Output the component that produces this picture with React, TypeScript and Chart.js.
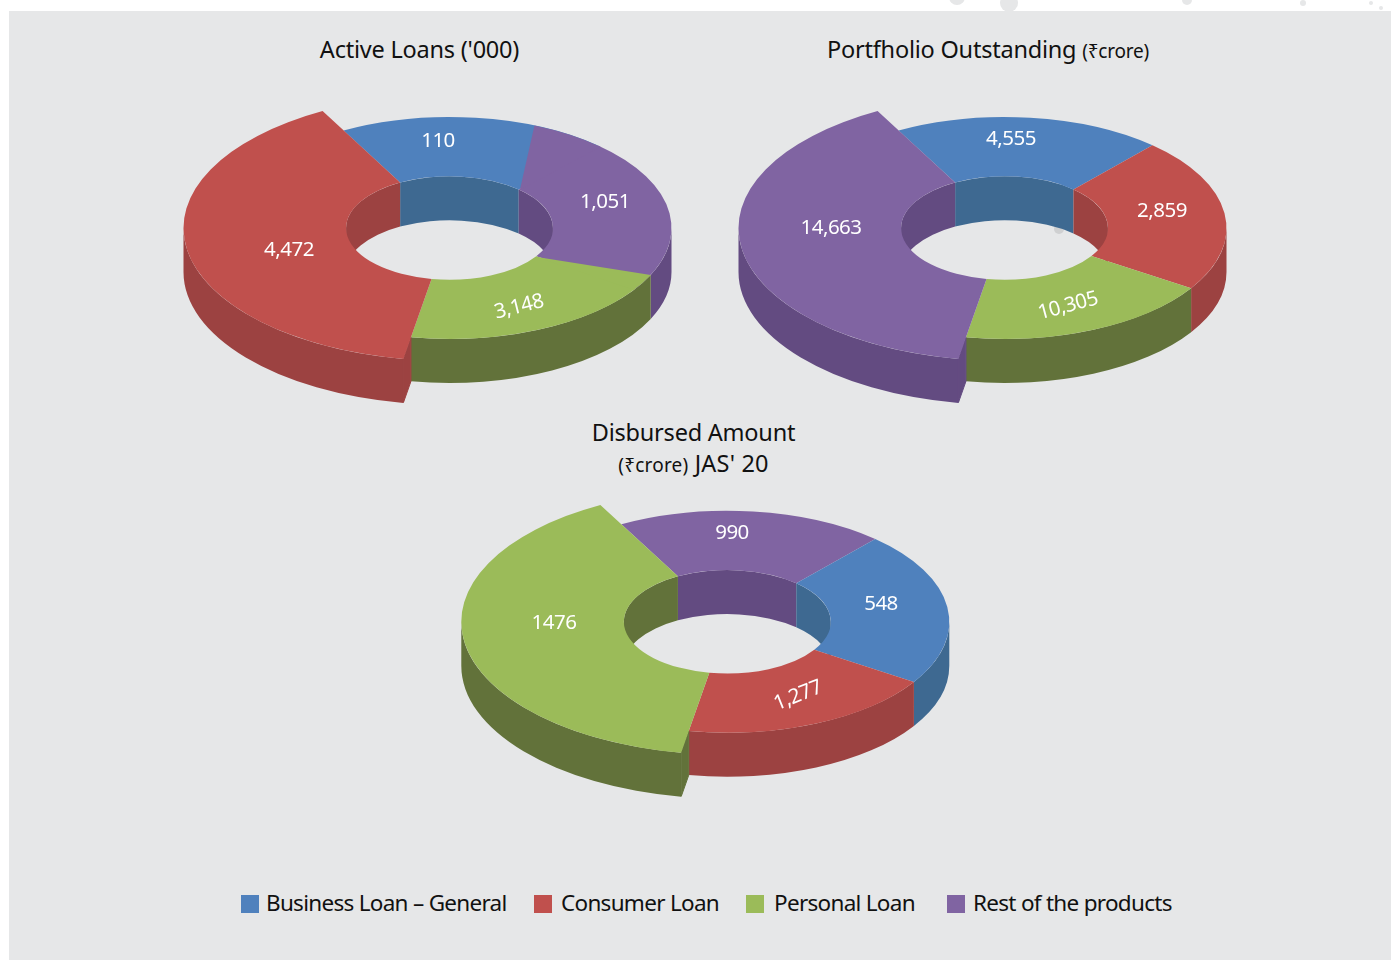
import React, { useEffect, useRef } from "react";
import Chart from "chart.js/auto";

// Drawn angular shares of each ring (the source art is not to scale),
// listed clockwise; printed numbers are kept separately.
const activeShares = [70.5, 81, 67, 141.5];
const activeLabels = ["110", "1,051", "3,148", "4,472"];
const activeColors = ["blue", "purple", "green", "red"];

const portfolioShares = [70.3, 81, 67.2, 141.5];
const portfolioLabels = ["4,555", "2,859", "10,305", "14,663"];
const portfolioColors = ["blue", "red", "green", "purple"];

const disbursedShares = [70.3, 81, 67.2, 141.5];
const disbursedLabels = ["990", "548", "1,277", "1476"];
const disbursedColors = ["purple", "blue", "red", "green"];

const legendItems = ["Business Loan – General", "Consumer Loan", "Personal Loan", "Rest of the products"];
const legendColors = ["blue", "red", "green", "purple"];

const FONT = '"Noto Sans"';
const TOP: Record<string, string> = { blue: "#4F81BD", red: "#C0504D", green: "#9BBB59", purple: "#8064A2" };
const WALL: Record<string, string> = { blue: "#3E6991", red: "#9C4241", green: "#62723A", purple: "#634B81" };
const SQUASH = 0.5;
const DEPTH = 44;
const RADIUS = 222;
const BIG_RADIUS = 266;
const CUT = "46.6%";
const ROTATION = -28.5;

type Cfg = {
  box: [number, number, number, number];
  centre: [number, number];
  shares: number[];
  labels: string[];
  colors: string[];
  labelAt: [number, number, number][];
  outerSkew?: Record<number, number>;
};

const charts: Cfg[] = [
  {
    box: [170, 100, 515, 312],
    centre: [449.5, 228],
    shares: activeShares,
    labels: activeLabels,
    colors: activeColors,
    labelAt: [[-11.5, -87, 0], [155.5, -26, 0], [69.5, 79, -14], [-160.5, 22, 0]],
    outerSkew: { 0: -19.5, 1: -8 },
  },
  {
    box: [725, 100, 515, 312],
    centre: [1004.5, 228],
    shares: portfolioShares,
    labels: portfolioLabels,
    colors: portfolioColors,
    labelAt: [[6.5, -89, 0], [157.5, -17, 0], [63.5, 78, -15], [-173.5, 0, 0]],
  },
  {
    box: [448, 495, 515, 312],
    centre: [727.3, 621.8],
    shares: disbursedShares,
    labels: disbursedLabels,
    colors: disbursedColors,
    labelAt: [[4.7, -89, 0], [153.7, -18, 0], [70.7, 74, -22], [-173.3, 1, 0]],
  },
];

const spans = (s: number, e: number, lo: number, hi: number) => {
  const out: [number, number][] = [];
  for (let n = -2; n <= 2; n++) {
    const a = Math.max(s, lo + n * 2 * Math.PI);
    const b = Math.min(e, hi + n * 2 * Math.PI);
    if (b > a) out.push([a, b]);
  }
  return out;
};

function wall(ctx: CanvasRenderingContext2D, x: number, y: number, r: number, a: number, b: number) {
  ctx.beginPath();
  ctx.ellipse(x, y, r, r * SQUASH, 0, a, b);
  ctx.ellipse(x, y + DEPTH, r, r * SQUASH, 0, b, a, true);
  ctx.closePath();
  ctx.fill();
}

function Donut({ cfg }: { cfg: Cfg }) {
  const ref = useRef<HTMLCanvasElement>(null);
  useEffect(() => {
    const [bx, by, bw, bh] = cfg.box;
    const lx = cfg.centre[0] - bx;
    const ly = cfg.centre[1] - by;
    const padX = 2 * lx - bw;
    const padY = 2 * ly - bh;
    const bigIndex = cfg.shares.length - 1;
    const skewRad = (i: number) => ((cfg.outerSkew?.[i] ?? 0) * Math.PI) / 180;

    const plugin = {
      id: "extrude",
      afterDatasetsUpdate(chart: any) {
        chart.getDatasetMeta(0).data[bigIndex].outerRadius = BIG_RADIUS;
      },
      beforeDatasetDraw(chart: any) {
        const ctx: CanvasRenderingContext2D = chart.ctx;
        const arcs = chart.getDatasetMeta(0).data;
        const x = arcs[0].x;
        const y = arcs[0].y;
        const inner = arcs[0].innerRadius;
        arcs.forEach((arc: any, i: number) => {
          ctx.fillStyle = WALL[cfg.colors[i]];
          spans(arc.startAngle, arc.endAngle, Math.PI, 2 * Math.PI).forEach(([a, b]) => wall(ctx, x, y, inner, a, b));
        });
        arcs.forEach((arc: any, i: number) => {
          ctx.fillStyle = WALL[cfg.colors[i]];
          const s = arc.startAngle + (i > 0 ? skewRad(i - 1) : 0);
          const e = arc.endAngle + skewRad(i);
          spans(s, e, 0, Math.PI).forEach(([a, b]) => wall(ctx, x, y, arc.outerRadius, a, b));
        });
        const big = arcs[bigIndex];
        const c = Math.cos(big.startAngle);
        const n = Math.sin(big.startAngle);
        const wallColor = WALL[cfg.colors[bigIndex]];
        ctx.fillStyle = wallColor;
        ctx.strokeStyle = wallColor;
        ctx.lineWidth = 1;
        ctx.beginPath();
        ctx.moveTo(x + RADIUS * c, y + RADIUS * n * SQUASH);
        ctx.lineTo(x + (BIG_RADIUS - 1) * c, y + (BIG_RADIUS - 1) * n * SQUASH);
        ctx.lineTo(x + (BIG_RADIUS - 1) * c, y + (BIG_RADIUS - 1) * n * SQUASH + DEPTH);
        ctx.lineTo(x + RADIUS * c, y + RADIUS * n * SQUASH + DEPTH);
        ctx.closePath();
        ctx.fill();
        ctx.stroke();
        ctx.save();
        ctx.translate(x, y);
        ctx.scale(1, SQUASH);
        ctx.translate(-x, -y);
      },
      afterDatasetDraw(chart: any) {
        const ctx: CanvasRenderingContext2D = chart.ctx;
        ctx.restore();
        const arcs = chart.getDatasetMeta(0).data;
        const x = arcs[0].x;
        const y = arcs[0].y;
        // slice edges in the art that are not radial: next slice takes a thin wedge of its neighbour
        arcs.forEach((arc: any, i: number) => {
          const d = skewRad(i);
          if (!d) return;
          const next = (i + 1) % arcs.length;
          const a = arc.endAngle;
          const past = a + 0.015;
          ctx.fillStyle = TOP[cfg.colors[next]];
          ctx.beginPath();
          ctx.moveTo(x + arc.innerRadius * Math.cos(past), y + arc.innerRadius * Math.sin(past) * SQUASH);
          ctx.ellipse(x, y, RADIUS, RADIUS * SQUASH, 0, a + d, past);
          ctx.closePath();
          ctx.fill();
        });
        ctx.fillStyle = "#ffffff";
        ctx.font = `20.5px ${FONT}`;
        (ctx as any).letterSpacing = "-0.5px";
        ctx.textAlign = "center";
        ctx.textBaseline = "middle";
        cfg.labels.forEach((t, i) => {
          const [dx, dy, rot] = cfg.labelAt[i];
          ctx.save();
          ctx.translate(x + dx, y + dy);
          ctx.rotate((rot * Math.PI) / 180);
          ctx.fillText(t, 0, 0);
          ctx.restore();
        });
      },
    };

    const chart = new Chart(ref.current as HTMLCanvasElement, {
      type: "doughnut",
      data: {
        labels: cfg.labels,
        datasets: [
          {
            data: cfg.shares,
            backgroundColor: cfg.colors.map((c) => TOP[c]),
            borderWidth: 0,
            clip: false,
          } as any,
        ],
      },
      options: {
        animation: false,
        responsive: false,
        events: [],
        rotation: ROTATION,
        radius: RADIUS,
        cutout: CUT,
        layout: {
          padding: {
            left: Math.max(padX, 0),
            right: Math.max(-padX, 0),
            top: Math.max(padY, 0),
            bottom: Math.max(-padY, 0),
          },
        },
        plugins: { legend: { display: false }, tooltip: { enabled: false }, title: { display: false } },
      } as any,
      plugins: [plugin as any],
    });
    return () => chart.destroy();
  }, [cfg]);
  const [l, t, w, h] = cfg.box;
  return (
    <canvas ref={ref} width={w} height={h} style={{ position: "absolute", left: l, top: t, width: w, height: h }} />
  );
}

const specks: [number, number, number][] = [
  [957, -3, 8],
  [1009, 3, 9],
  [1187, 0, 5],
  [1303, 3, 3],
  [1371, 3, 2],
  [1381, 8, 2],
];

const text = (cx: number, cy: number, node: React.ReactNode, spacing = -0.22) => (
  <div
    style={{
      position: "absolute",
      left: cx - 300,
      width: 600,
      top: cy - 20,
      height: 40,
      lineHeight: "40px",
      textAlign: "center",
      whiteSpace: "nowrap",
      color: "#111",
      fontSize: 23.5,
      letterSpacing: `${spacing}px`,
      fontFamily: FONT,
    }}
  >
    {node}
  </div>
);
const small = (s: string) => <span style={{ fontSize: 19 }}>{s}</span>;

const legendX = [241, 534, 746, 947];
const legendTextX = [266, 561, 774, 973];

export default function App() {
  useEffect(() => {
    document.body.style.margin = "0";
    document.body.style.background = "#fff";
  }, []);
  return (
    <div style={{ position: "absolute", left: 0, top: 0, width: 1391, height: 960, overflow: "hidden", background: "#fff" }}>
      {specks.map(([x, y, r], i) => (
        <div key={i} style={{ position: "absolute", left: x - r, top: y - r, width: 2 * r, height: 2 * r, borderRadius: "50%", background: "#E6E7E8" }} />
      ))}
      <div style={{ position: "absolute", left: 9, top: 11, width: 1382, height: 949, background: "#E6E7E8" }} />
      <div style={{ position: "absolute", left: 1054, top: 224, width: 10, height: 10, borderRadius: "50%", background: "#CFD0D1" }} />
      {charts.map((c, i) => (
        <Donut key={i} cfg={c} />
      ))}
      {text(419.5, 49, "Active Loans ('000)")}
      {text(988, 49, <>Portfholio Outstanding {small("(₹crore)")}</>)}
      {text(693.5, 432, "Disbursed Amount")}
      {text(693.5, 463, <>{small("(₹crore)")} JAS' 20</>, 0.2)}
      {legendItems.map((t, i) => (
        <React.Fragment key={t}>
          <div style={{ position: "absolute", left: legendX[i], top: 895, width: 18, height: 18, background: TOP[legendColors[i]] }} />
          <div style={{ position: "absolute", left: legendTextX[i], top: 883, height: 40, lineHeight: "40px", fontSize: 22.5, letterSpacing: "-0.71px", fontFamily: FONT, color: "#111", whiteSpace: "nowrap" }}>{t}</div>
        </React.Fragment>
      ))}
    </div>
  );
}
